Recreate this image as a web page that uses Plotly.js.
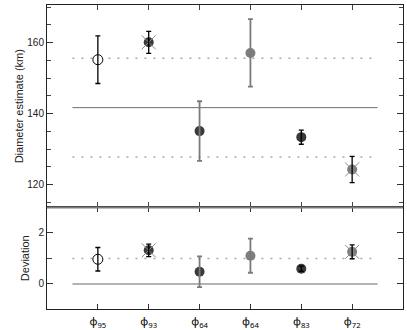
<!DOCTYPE html>
<html>
<head>
<meta charset="utf-8">
<script src="https://cdn.plot.ly/plotly-3.0.1.min.js"></script>
<style>html,body{margin:0;padding:0;background:#fff;}#chart{width:407px;height:330px;}</style>
</head>
<body>
<div id="chart"></div>
<script>
// ---- data ----
const categories = ['φ<sub>95</sub>', 'φ<sub>93</sub>', 'φ<sub>64</sub>', 'φ<sub>64</sub>', 'φ<sub>83</sub>', 'φ<sub>72</sub>'];
const positions = [1, 2, 3, 4, 5, 6];
const diameter = [155.2, 160.1, 135.1, 157.1, 133.4, 124.3];
const diameterErr = [6.7, 3.1, 8.4, 9.5, 2.0, 3.7];
const deviation = [0.97, 1.32, 0.48, 1.11, 0.60, 1.26];
const deviationErr = [0.46, 0.245, 0.60, 0.67, 0.10, 0.27];
const crossed = [false, true, false, false, false, true];
const meanDiameter = 141.7;
const upperDiameter = 155.6;
const lowerDiameter = 127.8;
const zeroDeviation = 0;
const unitDeviation = 1;
const lineSpan = [0.5, 6.5];

// ---- styles (per point) ----
const fillColors = ['#ffffff', '#3a3a3a', '#3a3a3a', '#7e7e7e', '#3a3a3a', '#7e7e7e'];
const lineColors = ['#000000', '#3a3a3a', '#3a3a3a', '#7e7e7e', '#3a3a3a', '#7e7e7e'];
const errColors = ['#000000', '#000000', '#7a7a7a', '#7a7a7a', '#000000', '#000000'];
const errWidths = [1.3, 1.3, 1.8, 1.8, 1.3, 1.3];

const traces = [];
function hline(y, ya, dash, color, width) {
  traces.push({x: lineSpan, y: [y, y], xaxis: ya === 'y' ? 'x2' : 'x', yaxis: ya, mode: 'lines',
    line: {color: color, width: width, dash: dash}, hoverinfo: 'skip', showlegend: false});
}
hline(meanDiameter, 'y', 'solid', '#6e6e6e', 1);
hline(upperDiameter, 'y', '2px,7px', '#a8a8a8', 1.5);
hline(lowerDiameter, 'y', '2px,7px', '#a8a8a8', 1.5);
hline(zeroDeviation, 'y2', 'solid', '#9a9a9a', 1.5);
hline(unitDeviation, 'y2', '2px,7px', '#a8a8a8', 1.5);

function panel(vals, errs, xa, ya) {
  for (let i = 0; i < vals.length; i++) {
    traces.push({x: [positions[i]], y: [vals[i]], xaxis: xa, yaxis: ya, mode: 'markers',
      marker: {symbol: 'circle', size: 10, color: fillColors[i], line: {color: lineColors[i], width: i === 0 ? 1 : 0}},
      hoverinfo: 'skip', showlegend: false});
    if (crossed[i]) {
      traces.push({x: [positions[i]], y: [vals[i]], xaxis: xa, yaxis: ya, mode: 'markers',
        marker: {symbol: 'x-thin-open', size: 14, color: '#8a8a8a', line: {color: '#8a8a8a', width: 1}},
        hoverinfo: 'skip', showlegend: false});
    }
    traces.push({x: [positions[i]], y: [vals[i]], xaxis: xa, yaxis: ya, mode: 'markers',
      marker: {size: 1, opacity: 0},
      error_y: {type: 'data', array: [errs[i]], visible: true, color: errColors[i], thickness: errWidths[i], width: 2.5},
      hoverinfo: 'skip', showlegend: false});
  }
}
panel(diameter, diameterErr, 'x2', 'y');
panel(deviation, deviationErr, 'x', 'y2');

const split = 0.334;
const layout = {
  width: 407, height: 330,
  margin: {l: 47, r: 4, t: 5, b: 21},
  paper_bgcolor: '#fff', plot_bgcolor: '#fff',
  font: {family: 'Liberation Sans, Arial, sans-serif', size: 10, color: '#222'},
  showlegend: false,
  xaxis: {anchor: 'y2', domain: [0, 1], range: [0, 7], tickvals: positions, ticktext: categories,
    ticks: 'inside', ticklen: 5, tickcolor: '#333', showline: true, linecolor: '#222', linewidth: 1,
    mirror: 'ticks', showgrid: false, zeroline: false, ticklabelstandoff: 2,
    tickfont: {family: 'Noto Sans, sans-serif', size: 11, color: '#000000'}},
  xaxis2: {anchor: 'y', domain: [0, 1], range: [0, 7], tickvals: [0, 1, 2, 3, 4, 5, 6, 7],
    showticklabels: false, ticks: 'inside', ticklen: 5, tickcolor: '#444', showline: true, linecolor: '#222',
    mirror: 'ticks', showgrid: false, zeroline: false},
  yaxis: {domain: [split, 1], range: [113.6, 170.6], tickvals: [120, 140, 160], ticks: 'inside', ticklen: 6,
    tickcolor: '#333', minor: {dtick: 5, tick0: 0, ticks: 'inside', ticklen: 4, tickcolor: '#444', showgrid: false},
    showline: true, linecolor: '#222', mirror: 'ticks', showgrid: false, zeroline: false,
    title: {text: 'Diameter estimate (km)', font: {size: 11, color: '#222'}, standoff: 1}},
  yaxis2: {domain: [0, split], range: [-0.98, 3.0], tickvals: [0, 2], ticks: 'inside', ticklen: 6,
    tickcolor: '#333', minor: {dtick: 1, tick0: 0, ticks: 'inside', ticklen: 5, tickcolor: '#444', showgrid: false},
    showline: true, linecolor: '#222', mirror: 'ticks', showgrid: false, zeroline: false,
    title: {text: 'Deviation', font: {size: 11, color: '#222'}, standoff: 6}},
  shapes: [{type: 'line', xref: 'paper', yref: 'paper', x0: 0, x1: 1, y0: split, y1: split,
    line: {color: '#7a7a7a', width: 2}}]
};
Plotly.newPlot('chart', traces, layout, {displayModeBar: false, staticPlot: true});
</script>
</body>
</html>
